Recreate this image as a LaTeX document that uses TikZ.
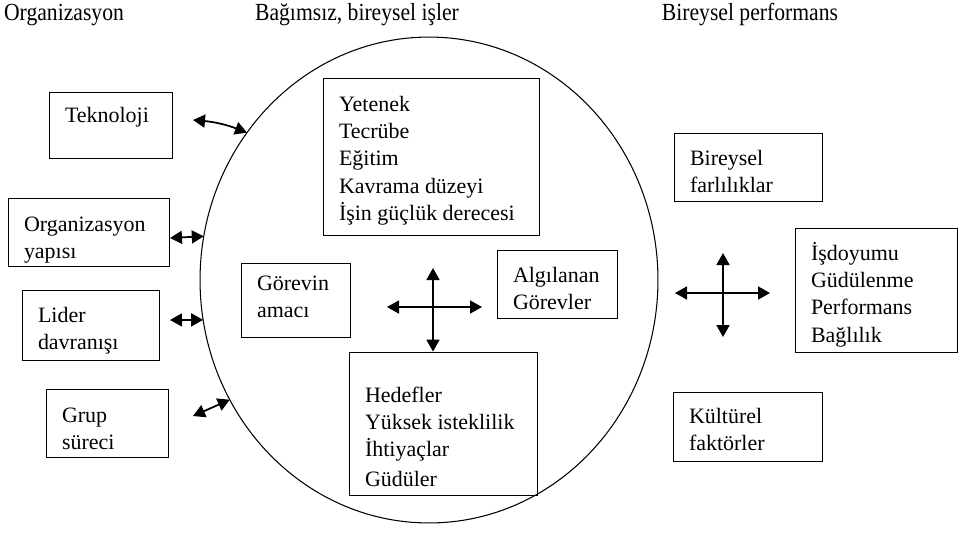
\documentclass[tikz,border=0pt]{standalone}
\usepackage{fontspec}
\setmainfont{Liberation Serif}
\newfontfamily\baslikfont[FakeStretch=0.88]{Liberation Serif}
\usetikzlibrary{arrows.meta,shapes.geometric}
\hyphenpenalty=10000
\exhyphenpenalty=10000

\begin{document}
\begin{tikzpicture}[x=0.02cm, y=-0.02cm,
  kutu/.style={draw=black, line width=0.5pt, align=flush left, inner xsep=0.32cm, inner ysep=0pt,
    font=\fontsize{12.5}{15.6}\selectfont},
  baslik/.style={anchor=base, font=\baslikfont\fontsize{14}{16}\selectfont},
  cift/.style={line width=1pt, {Triangle[length=0.24cm,width=0.26cm]}-{Triangle[length=0.24cm,width=0.26cm]}}]
\useasboundingbox (0,0) rectangle (959,532);

\node[baslik] (orgH) at (64,20) {Organizasyon};
\node[baslik] (isH) at (357,20) {Bağımsız, bireysel işler};
\node[baslik] (perfH) at (750,20) {Bireysel performans};

\node[draw=black, line width=0.6pt, ellipse, minimum width=9.16cm, minimum height=9.72cm,
  inner sep=0pt, outer sep=0pt] (cember) at (429,280) {};

% sol
\node[kutu, text width=1.82cm, text height=0.60cm, text depth=0.72cm] (tek) at (110.5,125) {Teknoloji};
\node[kutu, text width=2.58cm, text height=0.66cm, text depth=0.70cm] (yapi) at (88.5,232) {Organizasyon\\yapısı};
\node[kutu, text width=2.10cm, text height=0.64cm, text depth=0.76cm] (lider) at (90.5,325) {Lider\\davranışı};
\node[kutu, text width=1.80cm, text height=0.66cm, text depth=0.70cm] (grup) at (107,423) {Grup\\süreci};

\coordinate (tekU) at (193,120);
\draw[cift] (tekU) to[bend left=8] (cember.141);
\coordinate (yapiU) at (170,238);
\draw[cift] (yapiU) -- (cember.169);
\coordinate (liderU) at (170,320);
\draw[cift] (liderU) -- (cember.190);
\coordinate (grupU) at (193,416);
\draw[cift] (grupU) -- (cember.211);

% orta
\node[kutu, text width=3.68cm, text height=0.66cm, text depth=2.48cm] (yetenek) at (431,156.5)
  {Yetenek\\Tecrübe\\Eğitim\\Kavrama düzeyi\\İşin güçlük derecesi};
\node[kutu, text width=1.54cm, text height=0.54cm, text depth=0.94cm] (amac) at (295.5,300) {Görevin\\amacı};
\node[kutu, text width=1.76cm, text height=0.64cm, text depth=0.72cm] (algi) at (557,284) {Algılanan\\Görevler};
\node[kutu, text width=3.12cm, text height=1.00cm, text depth=1.86cm] (hedef) at (443,423.5)
  {Hedefler\\Yüksek isteklilik\\İhtiyaçlar\\[1.5pt]Güdüler};

\coordinate (mSol) at (387,307);
\coordinate (mSag) at (482,307);
\coordinate (mUst) at (433,268);
\draw[cift] (mSol) -- (mSag);
\draw[cift] (mUst) -- (mUst |- hedef.north);

% sag
\node[kutu, text width=2.32cm, text height=0.64cm, text depth=0.72cm] (fark) at (748,167) {Bireysel\\farlılıklar};
\node[kutu, text width=2.60cm, text height=0.64cm, text depth=1.84cm] (doyum) at (876,290)
  {İşdoyumu\\Güdülenme\\Performans\\Bağlılık};
\node[kutu, text width=2.34cm, text height=0.62cm, text depth=0.76cm] (kultur) at (747.5,426.5) {Kültürel\\faktörler};

\coordinate (sSol) at (675,293);
\coordinate (sSag) at (770,293);
\coordinate (sUst) at (723,253);
\coordinate (sAlt) at (723,337);
\draw[cift] (sSol) -- (sSag);
\draw[cift] (sUst) -- (sAlt);
\end{tikzpicture}
\end{document}
